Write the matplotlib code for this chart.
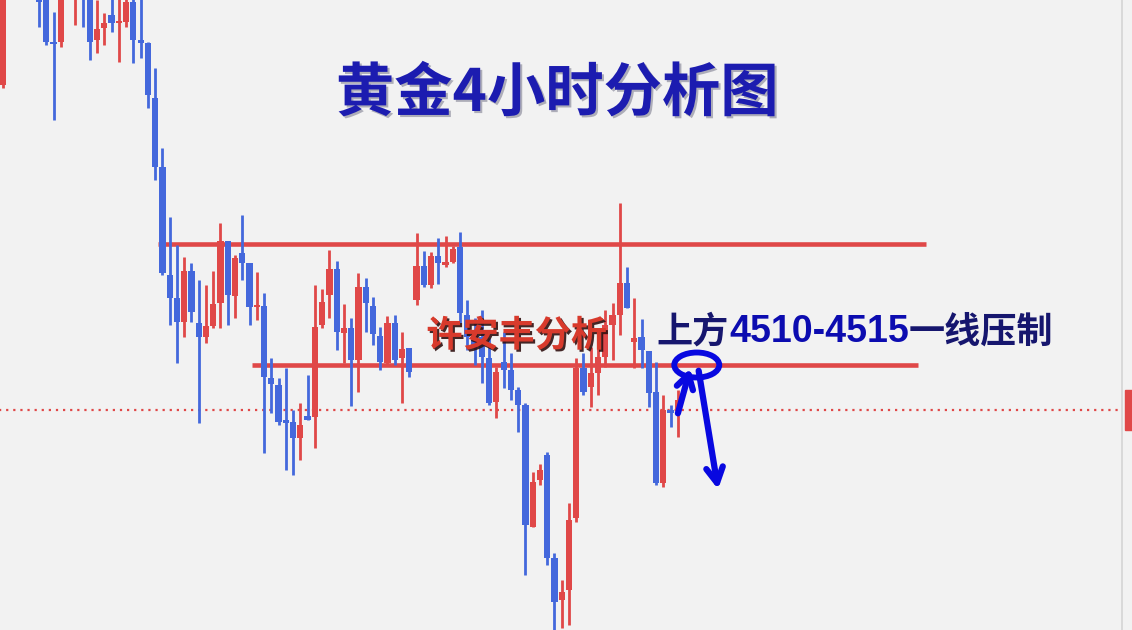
import numpy as np
import matplotlib

matplotlib.use("Agg")
import matplotlib.pyplot as plt
import matplotlib.patheffects as pe
from matplotlib.patches import Ellipse, Rectangle

plt.rcParams["font.family"] = ["Noto Sans CJK SC", "DejaVu Sans"]

nan = np.nan

# 4H gold candles (nan = bar above the visible area)
opens = [
    4652.5, nan, nan, nan, nan, 4700, 4697.5, 4674, 4674, nan,
    4697.5, 4710, 4697.5, 4675, 4681, 4687.5, 4683.5, 4684, 4694, 4675,
    4673.5, 4646, 4611.5, 4557.5, 4546, 4534, 4559.5, 4533.5, 4526.5, 4532,
    4543.5, 4574.5, 4547, 4568.5, 4563.5, 4541.5, 4542, 4506, 4502.5, 4485,
    4484, 4476, 4487, 4486.5, 4532.5, 4547.5, 4560.5, 4528.5, 4531, 4515,
    4551.5, 4542, 4527, 4513.5, 4533.5, 4516, 4521, 4545, 4562, 4552.5,
    4567, 4562.5, 4564, 4571.5, 4537.5, 4528.5, 4526.5, 4516, 4494, 4514,
    4510, 4500, 4492.5, 4431.5, 4455, 4467.5, 4416, 4395, 4400, 4436,
    4511, 4501.5, 4508.5, 4516.5, 4532.5, 4537.5, 4553.5, 4524, 4526.5, 4519.5,
    4499, 4453.5, 4490, 4490,
]
closes = [
    4715, nan, nan, nan, nan, 4694, 4674, 4673, 4700, nan,
    4710, 4697.5, 4674, 4680.5, 4683.5, 4683.5, 4684.5, 4694, 4675, 4673.5,
    4647.5, 4611.5, 4558.5, 4546, 4534, 4559.5, 4539, 4526.5, 4532, 4543,
    4574.5, 4547.5, 4566, 4563.5, 4541.5, 4542, 4506.5, 4503, 4484, 4483.5,
    4476, 4482.5, 4485, 4531.5, 4544, 4560.5, 4529, 4531, 4515, 4551.5,
    4543.5, 4528, 4514, 4533.5, 4515, 4520.5, 4509, 4562, 4552.5, 4567,
    4563.5, 4564, 4570.5, 4538.5, 4526.5, 4522.5, 4516.5, 4493.5, 4509, 4510,
    4500, 4492.5, 4432.5, 4454, 4460, 4416, 4394, 4399, 4435, 4511,
    4499, 4508.5, 4516.5, 4532.5, 4537.5, 4553.5, 4541, 4526, 4520, 4498.5,
    4453.5, 4490, 4488.5, 4495,
]
highs = [
    4720, nan, nan, nan, nan, 4705, 4702.5, 4689, 4705, nan,
    4715, 4715, 4702.5, 4695, 4688.5, 4697.5, 4697.5, 4697.5, 4697.5, 4697.5,
    4674, 4661, 4621, 4586.5, 4572.5, 4566.5, 4563.5, 4555, 4552.5, 4559.5,
    4583.5, 4574.5, 4567.5, 4587.5, 4563.5, 4559, 4548.5, 4516, 4506, 4511,
    4490, 4493.5, 4507.5, 4552.5, 4550.5, 4570, 4564.5, 4543, 4536, 4558.5,
    4556, 4546.5, 4531.5, 4537, 4537.5, 4529, 4521, 4578.5, 4569.5, 4569,
    4576, 4577, 4572, 4579, 4545, 4536, 4540, 4526, 4511.5, 4529,
    4518.5, 4501.5, 4493.5, 4459, 4463, 4469, 4418.5, 4405, 4443.5, 4516,
    4518.5, 4521.5, 4526, 4540, 4543.5, 4593.5, 4561.5, 4546, 4535.5, 4519.5,
    4514, 4497.5, 4492.5, 4500,
]
lows = [
    4651, nan, nan, nan, nan, 4681.5, 4672.5, 4635, 4671.5, nan,
    4682.5, 4681.5, 4665, 4668.5, 4672.5, 4679, 4664, 4681.5, 4663.5, 4666,
    4641, 4605, 4557.5, 4532.5, 4513.5, 4526.5, 4534, 4483.5, 4523.5, 4531,
    4531, 4532.5, 4536, 4555, 4532.5, 4535, 4468.5, 4488.5, 4482.5, 4460,
    4457.5, 4465, 4485, 4471, 4531, 4536, 4520, 4513.5, 4492, 4499,
    4529, 4522.5, 4510, 4512, 4512.5, 4493.5, 4506.5, 4542.5, 4551.5, 4551,
    4553, 4561.5, 4563.5, 4533.5, 4520, 4512.5, 4503.5, 4492.5, 4486, 4501,
    4495, 4479, 4407.5, 4431.5, 4452.5, 4412.5, 4379, 4381, 4382.5, 4434,
    4497.5, 4491.5, 4497.5, 4511.5, 4515, 4527.5, 4541, 4511, 4511, 4491.5,
    4452.5, 4451.5, 4481.5, 4476.5,
]

upper_level = 4573      # top range line
lower_level = 4512.5    # 4510-4515 resistance
last_price = 4490       # dotted current-price line

RED = "#e04848"
BLUE = "#4468dc"
PEN = "#0808e0"

o = np.array(opens)
c = np.array(closes)
h = np.array(highs)
l = np.array(lows)
idx = np.arange(len(o))
up = c >= o
colors = np.where(up, RED, BLUE)

fig = plt.figure(figsize=(11.32, 6.3), dpi=100)
fig.patch.set_facecolor("#f2f2f2")
ax = fig.add_axes([0, 0, 1, 1])
ax.set_facecolor("#f2f2f2")
ax.set_xlim(-0.37, 155.55)
ax.set_ylim(4380, 4695)
ax.axis("off")

# support / resistance lines
ax.hlines(last_price, -1, 154.2, colors=RED, lw=1.6, linestyles=(0, (1, 2.2)), zorder=1)
ax.hlines(upper_level, 21.4, 127.2, colors=RED, lw=3.3, zorder=1)
ax.hlines(lower_level, 34.3, 126.1, colors=RED, lw=3.3, zorder=1)

# candles
ax.vlines(idx, l, h, colors=colors, lw=2.0, zorder=2)
body_lo = np.minimum(o, c)
body_h = np.maximum(np.abs(c - o), 1.2)
ax.bar(idx, body_h, bottom=body_lo, width=0.86, color=colors, zorder=3)

# right edge price scale border + tag
ax.axvline(154.2, color="#d4d4d4", lw=1.2)
ax.add_patch(Rectangle((154.6, last_price - 10), 2, 20, color=RED, zorder=4))

# texts
ax.text(76.4, 4648, "黄金4小时分析图", ha="center", va="center", fontsize=42,
        fontweight="bold", color="#1c1cb0",
        path_effects=[pe.withSimplePatchShadow(offset=(1.5, -1.5), shadow_rgbFace="#9090a0", alpha=0.7)])

ax.text(70.8, 4527, "许安丰分析", ha="center", va="center", fontsize=26,
        fontweight="bold", color="#d83a2c",
        path_effects=[pe.withSimplePatchShadow(offset=(1.5, -1.5), shadow_rgbFace="#301010", alpha=0.9)])

t1 = ax.text(90.1, 4529, "上方", ha="left", va="center", fontsize=26,
             fontweight="bold", color="#16166e")
t2 = ax.annotate("4510-4515", xy=(1, 0.5), xycoords=t1, ha="left", va="center",
                 fontsize=27, fontweight="bold", color="#0c0cb0", family="Liberation Sans")
ax.annotate("一线压制", xy=(1, 0.5), xycoords=t2, ha="left", va="center",
            fontsize=26, fontweight="bold", color="#16166e")

# hand-drawn circle and arrows
ax.add_patch(Ellipse((95.6, lower_level), 6.2, 12.5, fill=False, ec=PEN, lw=4.2, zorder=5))
ax.annotate("", xy=(94.8, 4512), xytext=(92.9, 4487),
            arrowprops=dict(arrowstyle="->,head_length=1.0,head_width=0.6", color=PEN, lw=4.5))
ax.annotate("", xy=(98.6, 4449), xytext=(95.8, 4511),
            arrowprops=dict(arrowstyle="->,head_length=1.1,head_width=0.6", color=PEN, lw=4.5))

fig.savefig("out.png", dpi=100, facecolor=fig.get_facecolor())
